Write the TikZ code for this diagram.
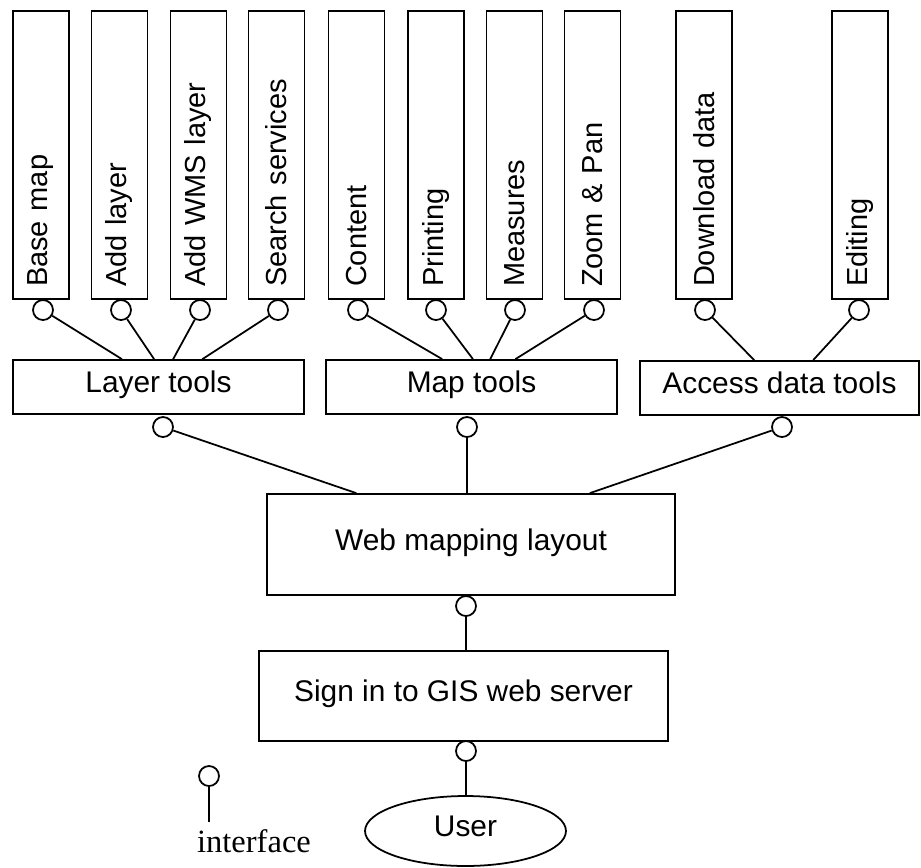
\documentclass[tikz,border=0pt]{standalone}
\usepackage{fontspec}
\setmainfont{Liberation Sans}
\newfontfamily\legendfont{Liberation Serif}
\usetikzlibrary{calc,shapes.geometric}

\tikzset{
  tool/.style={draw, line width=1pt, rotate=90, minimum width=5.76cm, minimum height=1.12cm,
    inner xsep=0.24cm, text width=5.28cm, align=left, font=\fontsize{16.5}{20}\selectfont},
  group/.style={draw, line width=1pt, text height=0.72em, text depth=0.06em, font=\fontsize{17}{20}\selectfont},
  port/.style={draw, circle, line width=1pt, minimum size=0.4cm, inner sep=0pt},
  link/.style={line width=1pt},
}

\begin{document}
\begin{tikzpicture}[x=0.02cm, y=-0.02cm]
  \useasboundingbox (0,0) rectangle (921,867);

  % functions
  \node[tool] (basemap) at (41,155) {Base map};
  \node[tool] (addlayer) at (119.5,155) {Add layer};
  \node[tool] (addwms) at (198.5,155) {Add WMS layer};
  \node[tool] (search) at (276.5,155) {Search services};
  \node[tool] (content) at (356.5,155) {Content};
  \node[tool] (printing) at (436,155) {Printing};
  \node[tool] (measures) at (514.5,155) {Measures};
  \node[tool] (zoompan) at (592.5,155) {Zoom \& Pan};
  \node[tool] (download) at (704,155) {Download data};
  \node[tool] (editing) at (860,155) {Editing};

  \node[port] (pbasemap) at (43,310) {};
  \node[port] (paddlayer) at (121,310) {};
  \node[port] (paddwms) at (200,310) {};
  \node[port] (psearch) at (278,310) {};
  \node[port] (pcontent) at (358,310) {};
  \node[port] (pprinting) at (436,310) {};
  \node[port] (pmeasures) at (515,310) {};
  \node[port] (pzoompan) at (594,310) {};
  \node[port] (pdownload) at (705,310) {};
  \node[port] (pediting) at (859,310) {};

  % tool groups
  \node[group, minimum width=5.82cm, minimum height=1.08cm] (layer) at (158.5,387) {Layer tools};
  \node[group, minimum width=5.82cm, minimum height=1.08cm] (map) at (471.5,387) {Map tools};
  \node[group, minimum width=5.58cm, minimum height=1.08cm] (access) at (779.5,388) {Access data tools};

  \draw[link] (pbasemap) -- ($(layer.north west)!0.375!(layer.north east)$);
  \draw[link] (paddlayer) -- ($(layer.north west)!0.485!(layer.north east)$);
  \draw[link] (paddwms) -- ($(layer.north west)!0.55!(layer.north east)$);
  \draw[link] (psearch) -- ($(layer.north west)!0.65!(layer.north east)$);
  \draw[link] (pcontent) -- ($(map.north west)!0.40!(map.north east)$);
  \draw[link] (pprinting) -- ($(map.north west)!0.505!(map.north east)$);
  \draw[link] (pmeasures) -- ($(map.north west)!0.564!(map.north east)$);
  \draw[link] (pzoompan) -- ($(map.north west)!0.65!(map.north east)$);
  \draw[link] (pdownload) -- ($(access.north west)!0.41!(access.north east)$);
  \draw[link] (pediting) -- ($(access.north west)!0.62!(access.north east)$);

  \node[port] (player) at (163,427) {};
  \node[port] (pmap) at (467,427) {};
  \node[port] (paccess) at (782,427) {};

  % layout, sign in, user
  \node[group, minimum width=8.16cm, minimum height=2.02cm] (web) at (471,544.5) {Web mapping layout};
  \draw[link] (player) -- ($(web.north west)!0.22!(web.north east)$);
  \draw[link] (pmap) -- (pmap |- web.north);
  \draw[link] (paccess) -- ($(web.north west)!0.79!(web.north east)$);

  \node[port] (pweb) at (466,606) {};
  \node[group, minimum width=8.18cm, minimum height=1.8cm] (signin) at (463.5,696) {Sign in to GIS web server};
  \draw[link] (pweb) -- (pweb |- signin.north);

  \node[port] (psignin) at (466,751) {};
  \node[group, ellipse, minimum width=4.02cm, minimum height=1.4cm] (user) at (465.5,831) {User};
  \draw[link] (psignin) -- (psignin |- user.north);

  % legend
  \node[port] (plegend) at (209,776) {};
  \coordinate (legendend) at (209,822);
  \draw[link] (plegend) -- (legendend);
  \node[font=\legendfont\fontsize{18.5}{22}\selectfont] (legend) at (254,841) {interface};
\end{tikzpicture}
\end{document}
